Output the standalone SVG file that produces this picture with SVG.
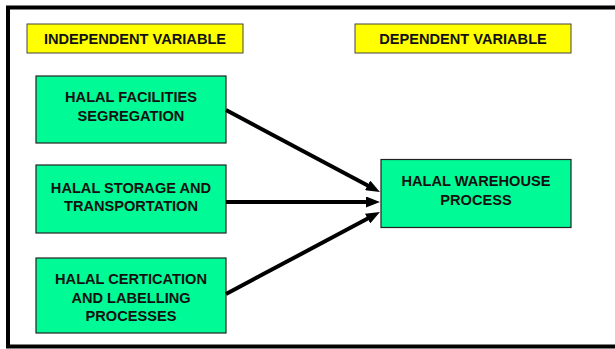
<svg xmlns="http://www.w3.org/2000/svg" width="615" height="349" viewBox="0 0 615 349">
<style>
.lbl{fill:#ffff00;stroke:#444;stroke-width:1}
.box{fill:#00fa96;stroke:#222;stroke-width:1.2}
text{font-family:"Liberation Sans",Arial,sans-serif;font-weight:bold;font-size:14.6px;fill:#111;text-anchor:middle}
.conn line{stroke:#000;stroke-width:4}
</style>
<defs>
<marker id="ah" markerUnits="userSpaceOnUse" markerWidth="14" markerHeight="11" refX="6" refY="5.5" orient="auto">
<path d="M0,0 L14,5.5 L0,11 z" fill="#000"/>
</marker>
</defs>
<rect x="0" y="0" width="615" height="349" fill="#fff"/>
<rect x="8" y="7.5" width="620" height="339" fill="none" stroke="#000" stroke-width="4"/>
<g id="independent-label">
<rect class="lbl" x="27" y="24" width="216" height="29"/>
<text x="135" y="44">INDEPENDENT VARIABLE</text>
</g>
<g id="dependent-label">
<rect class="lbl" x="355" y="24" width="216" height="29"/>
<text x="463" y="44">DEPENDENT VARIABLE</text>
</g>
<g id="node-facilities">
<rect class="box" x="36" y="76" width="190" height="67"/>
<text x="131" y="102">HALAL FACILITIES</text>
<text x="131" y="121">SEGREGATION</text>
</g>
<g id="node-storage">
<rect class="box" x="36" y="165" width="190" height="68"/>
<text x="131" y="192.5">HALAL STORAGE AND</text>
<text x="131" y="211">TRANSPORTATION</text>
</g>
<g id="node-certification">
<rect class="box" x="36" y="258" width="190" height="75"/>
<text x="131" y="284">HALAL CERTICATION</text>
<text x="131" y="302.5">AND LABELLING</text>
<text x="131" y="321">PROCESSES</text>
</g>
<g id="node-warehouse">
<rect class="box" x="381" y="159.5" width="190" height="68"/>
<text x="476" y="186">HALAL WAREHOUSE</text>
<text x="476" y="205">PROCESS</text>
</g>
<g class="conn" id="connectors">
<line x1="226" y1="110" x2="372.9" y2="188.2" marker-end="url(#ah)"/>
<line x1="226" y1="202" x2="372" y2="202" marker-end="url(#ah)"/>
<line x1="226" y1="294" x2="372.9" y2="215.8" marker-end="url(#ah)"/>
</g>
</svg>
